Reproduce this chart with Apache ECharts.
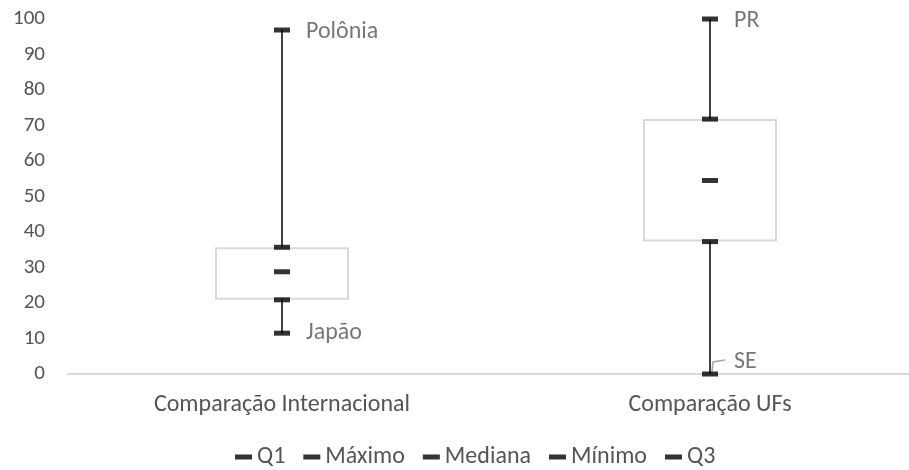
<!DOCTYPE html>
<html>
<head>
<meta charset="utf-8">
<script src="https://cdn.jsdelivr.net/npm/echarts@6/dist/echarts.min.js"></script>
<style>
  html, body { margin: 0; padding: 0; background: #fff; }
  #main { width: 909px; height: 470px; }
</style>
</head>
<body>
<div id="main"></div>
<script type="text/javascript">
// dados do box plot
var categorias = ['Comparação Internacional', 'Comparação UFs'];
var minimo  = [11.5, 0];
var q1      = [20.9, 37.3];
var mediana = [28.8, 54.5];
var q3      = [35.7, 71.8];
var maximo  = [96.9, 100];
var rotulosMax = ['Polônia', 'PR'];
var rotulosMin = ['Japão', 'SE'];
var ticksY = [0, 100, 10]; // min, max, intervalo

var myChart = echarts.init(document.getElementById('main'));
var fonte = 'Carlito, Lato, sans-serif';
var cinzaTexto = '#555555';
var tam = 24;
var idxChamada = 1; // rótulo do mínimo deslocado (SE), com linha de chamada

// altura da caixa = q3 - q1
var caixa = q3.map(function (v, i) { return +(v - q1[i]).toFixed(2); });

function marcador(nome, arr, extra) {
  var s = {
    name: nome,
    type: 'scatter',
    data: arr.map(function (v, i) { return [i, v]; }),
    symbol: 'rect',
    symbolSize: [16, 5],
    itemStyle: { color: '#000' },
    z: 5,
    silent: true
  };
  for (var k in extra) s[k] = extra[k];
  return s;
}

var rotulo = {
  show: true,
  position: 'right',
  distance: 16,
  offset: [0, 2],
  fontFamily: fonte,
  fontSize: tam,
  color: cinzaTexto
};

var option = {
  backgroundColor: '#fff',
  animation: false,
  textStyle: { fontFamily: fonte },
  grid: { left: 68, top: 19, width: 856, height: 355, containLabel: false, outerBoundsMode: 'none' },
  legend: {
    data: ['Q1', 'Máximo', 'Mediana', 'Mínimo', 'Q3'],
    top: 445,
    left: 235,
    padding: 0,
    icon: 'rect',
    itemWidth: 17,
    itemHeight: 5,
    itemGap: 18,
    textStyle: { fontFamily: fonte, fontSize: tam, color: cinzaTexto }
  },
  xAxis: {
    type: 'category',
    data: categorias,
    axisLine: { lineStyle: { color: '#d9d9d9', width: 2 } },
    axisTick: { show: false },
    axisLabel: { color: cinzaTexto, fontSize: tam, fontFamily: fonte, margin: 19 }
  },
  yAxis: {
    type: 'value',
    min: ticksY[0],
    max: ticksY[1],
    interval: ticksY[2],
    axisLine: { show: false },
    axisTick: { show: false },
    splitLine: { show: false },
    axisLabel: { color: cinzaTexto, fontSize: 21, fontFamily: fonte, margin: 23 }
  },
  series: [
    {
      name: 'base',
      type: 'bar',
      stack: 'box',
      data: q1,
      barWidth: 134,
      itemStyle: { color: 'transparent' },
      silent: true
    },
    {
      name: 'caixa',
      type: 'bar',
      stack: 'box',
      data: caixa,
      barWidth: 134,
      itemStyle: { color: 'transparent', borderColor: '#d9d9d9', borderWidth: 2 },
      silent: true
    },
    {
      name: 'bigodes',
      type: 'custom',
      data: categorias.map(function (c, i) { return [i, minimo[i], q1[i], q3[i], maximo[i]]; }),
      z: 4,
      silent: true,
      renderItem: function (params, api) {
        var x = api.value(0);
        var a = api.coord([x, api.value(1)]);
        var b = api.coord([x, api.value(2)]);
        var c = api.coord([x, api.value(3)]);
        var d = api.coord([x, api.value(4)]);
        var st = { stroke: '#404040', lineWidth: 2 };
        var filhos = [
          { type: 'line', shape: { x1: a[0], y1: a[1], x2: b[0], y2: b[1] }, style: st },
          { type: 'line', shape: { x1: c[0], y1: c[1], x2: d[0], y2: d[1] }, style: st }
        ];
        if (params.dataIndex === idxChamada) {
          // linha de chamada do rótulo do mínimo
          filhos.push({
            type: 'polyline',
            z2: 10,
            shape: { points: [[a[0] + 2, a[1] - 2], [a[0] + 3, a[1] - 12], [a[0] + 15, a[1] - 14]] },
            style: { stroke: '#a6a6a6', lineWidth: 1.5, fill: null }
          });
        }
        return { type: 'group', children: filhos };
      }
    },
    marcador('Q1', q1),
    marcador('Máximo', maximo, {
      label: Object.assign({}, rotulo, {
        formatter: function (p) { return rotulosMax[p.dataIndex]; }
      })
    }),
    marcador('Mediana', mediana),
    marcador('Mínimo', minimo, {
      label: Object.assign({}, rotulo, {
        formatter: function (p) { return rotulosMin[p.dataIndex]; }
      }),
      labelLayout: function (p) {
        if (p.dataIndex === idxChamada) return { dy: -12 };
      }
    }),
    marcador('Q3', q3)
  ]
};

myChart.setOption(option);
</script>
</body>
</html>
